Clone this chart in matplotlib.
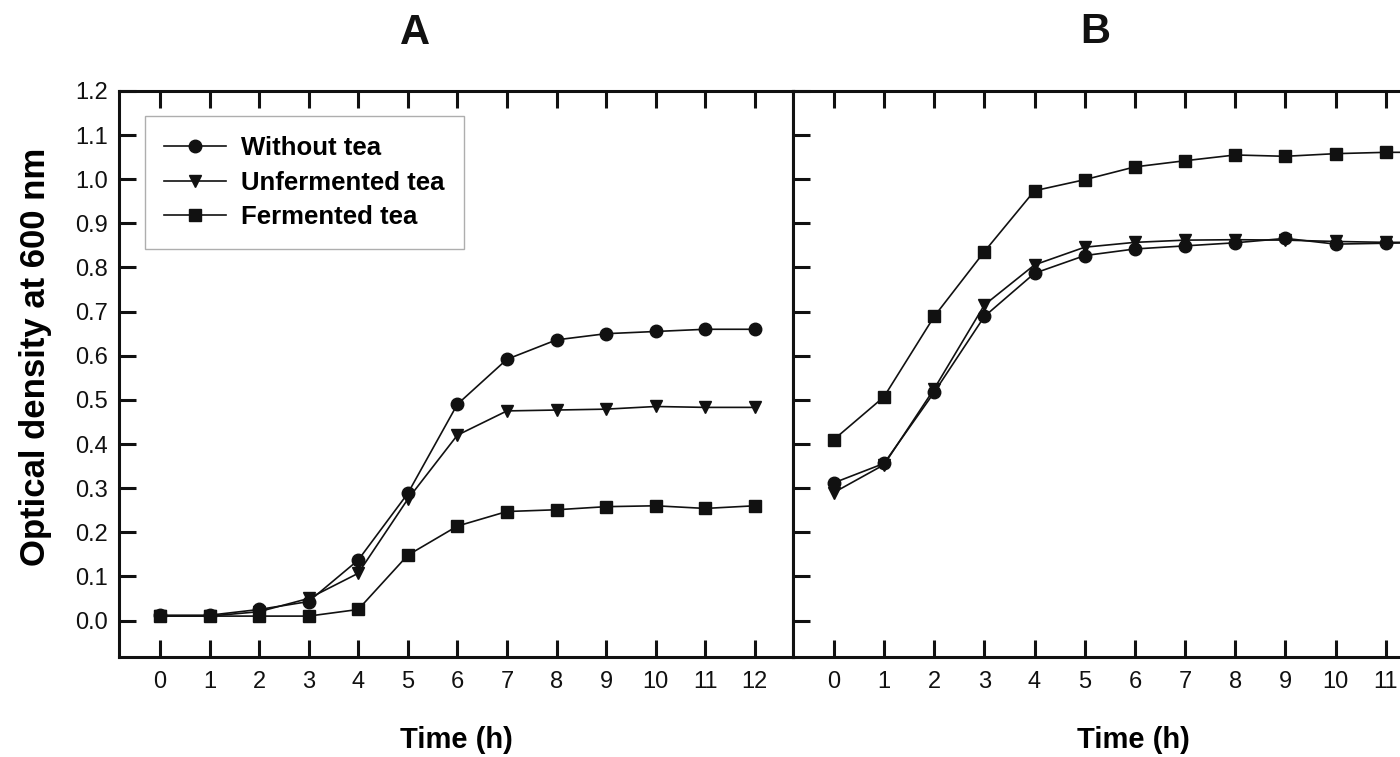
"""Bacterial growth curves with and without tea extracts (panels A and B)."""
import matplotlib
matplotlib.use("Agg")
import matplotlib.pyplot as plt
import numpy as np

plt.rcParams["font.family"] = ["Liberation Sans", "DejaVu Sans"]

time_h = np.arange(13)
series_names = ["Without tea", "Unfermented tea", "Fermented tea"]

# panel A
a_without = [0.012, 0.012, 0.025, 0.043, 0.137, 0.288, 0.490, 0.592, 0.636,
             0.650, 0.655, 0.660, 0.660]
a_unferm = [0.010, 0.010, 0.020, 0.050, 0.107, 0.275, 0.420, 0.475, 0.477,
            0.479, 0.485, 0.483, 0.483]
a_ferm = [0.010, 0.010, 0.010, 0.010, 0.025, 0.148, 0.214, 0.247, 0.251,
          0.258, 0.260, 0.254, 0.260]

# panel B
b_without = [0.312, 0.356, 0.517, 0.689, 0.787, 0.827, 0.842, 0.849, 0.856,
             0.866, 0.853, 0.855, 0.857]
b_unferm = [0.290, 0.353, 0.525, 0.715, 0.806, 0.846, 0.857, 0.862, 0.863,
            0.862, 0.859, 0.857, 0.857]
b_ferm = [0.410, 0.507, 0.689, 0.836, 0.974, 0.999, 1.028, 1.042, 1.055,
          1.052, 1.058, 1.061, 1.061]

y_ticks = np.round(np.arange(0, 1.21, 0.1), 1)
markers = ["o", "v", "s"]
msizes = [9, 9, 8]
INK = "#111111"


def _style_axes(ax, show_ylabels):
    ax.set_xlim(-0.82, 12.77)
    ax.set_ylim(-0.082, 1.2)
    ax.set_xticks(time_h)
    ax.set_yticks(y_ticks)
    ax.set_yticklabels([f"{v:.1f}" for v in y_ticks] if show_ylabels else [])
    ax.tick_params(axis="x", direction="in", length=12, width=2.2,
                   top=True, bottom=True, labelsize=17, pad=10, colors=INK)
    ax.tick_params(axis="y", direction="in", length=12, width=2.2,
                   left=True, right=False, labelsize=17, pad=8, colors=INK)
    for sp in ax.spines.values():
        sp.set_linewidth(2.2)
        sp.set_color(INK)
    ax.set_xlabel("Time (h)", fontsize=21, fontweight="bold", labelpad=24)


def _draw(ax, ys):
    for name, y, m, ms in zip(series_names, ys, markers, msizes):
        ax.plot(time_h, y, color=INK, lw=1.2, marker=m, ms=ms,
                markerfacecolor=INK, markeredgecolor=INK, label=name)


fig = plt.figure(figsize=(14, 7.57), dpi=100)
ax_a = fig.add_axes([0.0852, 0.1325, 0.4812, 0.7473])
ax_b = fig.add_axes([0.5662, 0.1325, 0.4871, 0.7473])

_draw(ax_a, [a_without, a_unferm, a_ferm])
_draw(ax_b, [b_without, b_unferm, b_ferm])
_style_axes(ax_a, True)
_style_axes(ax_b, False)

ax_a.set_ylabel("Optical density at 600 nm", fontsize=25, fontweight="bold")
ax_a.yaxis.set_label_coords(-0.1, 0.53)

leg = ax_a.legend(loc="upper left", bbox_to_anchor=(0.038, 0.955),
                  borderaxespad=0, fancybox=False, frameon=True,
                  edgecolor="#9a9a9a", handlelength=2.4, handletextpad=0.6,
                  labelspacing=0.42, borderpad=0.75,
                  prop={"size": 18.5, "weight": "bold"})
leg.get_frame().set_linewidth(1.0)

fig.text(415 / 1400, 1 - 33 / 757, "A", fontsize=30, fontweight="bold",
         ha="center", va="center", color=INK)
fig.text(1095 / 1400, 1 - 32 / 757, "B", fontsize=30, fontweight="bold",
         ha="center", va="center", color=INK)

fig.savefig("out.png", dpi=100)
